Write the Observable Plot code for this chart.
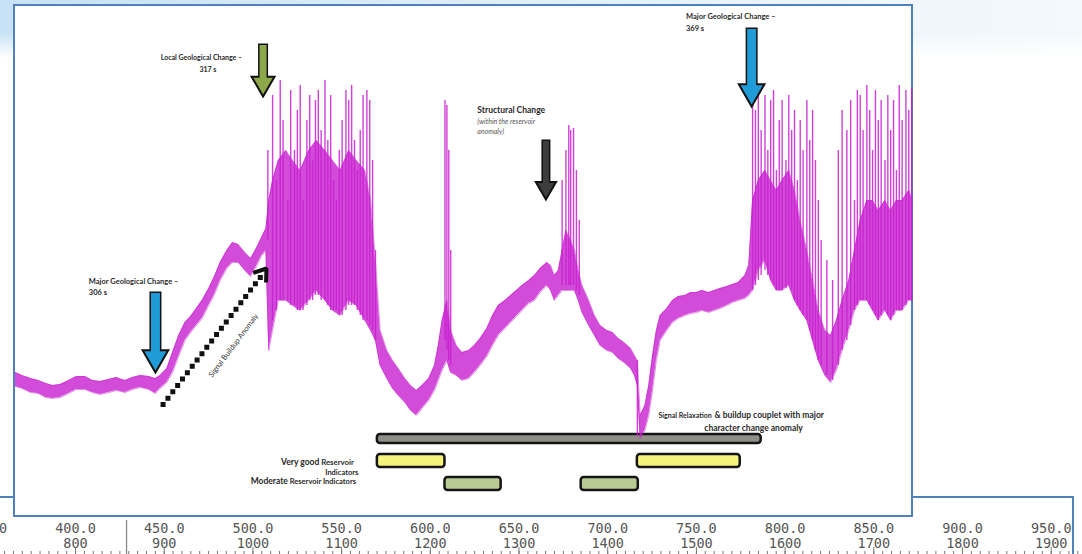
<!DOCTYPE html>
<html><head><meta charset="utf-8">
<script src="https://cdn.jsdelivr.net/npm/d3@7"></script>
<script src="https://cdn.jsdelivr.net/npm/@observablehq/plot@0.6"></script>
<style>
body{margin:0;width:1082px;height:554px;overflow:hidden;background:#fff;position:relative;font-family:Lato,"Open Sans",sans-serif}
#bg{position:absolute;left:0;top:0;width:1082px;height:58px;background:linear-gradient(to bottom,rgba(255,255,255,0) 55%,#fff),linear-gradient(to right,#c7e1f5,#dcedf9 40%,#eef6fc 80%,#f3f9fd)}
#panel{position:absolute;left:12.75px;top:3.75px;width:896.5px;height:509.5px;border:2.5px solid #4f81bd;background:#fff}
.bl{position:absolute;background:#4f81bd}
#chart{position:absolute;left:14px;top:5px}
#axis{position:absolute;left:0;top:517px}
</style></head>
<body>
<div id="bg"></div>
<div class="bl" style="left:0;top:495.75px;width:14px;height:2.5px"></div>
<div class="bl" style="left:913px;top:495.75px;width:161px;height:2.5px"></div>
<div class="bl" style="left:1071.5px;top:495.75px;width:2.5px;height:60px"></div>
<div id="panel"></div>
<div id="chart"></div>
<div id="axis"></div>
<script>
// ---- signal envelope (time in s, amplitude in arbitrary units) ----
const bandTime = [291.1,291.8,292.7,293.5,294.3,295.0,295.8,296.7,297.5,298.4,299.2,300.0,300.9,301.7,302.6,303.4,304.2,305.1,305.8,306.3,307.0,307.6,308.2,308.9,309.5,310.1,310.7,311.4,312.0,312.6,313.3,313.9,314.5,315.2,315.8,316.4,316.9,317.4,
317.7,318.1,318.7,319.5,320.2,321.0,321.9,322.7,323.6,324.4,325.2,326.1,326.9,327.8,328.4,328.9,
329.4,330.1,330.7,331.3,332.0,332.6,333.2,333.8,334.5,335.1,335.5,335.9,336.4,336.8,337.4,338.0,338.7,339.3,339.9,340.6,341.2,341.8,342.5,343.1,343.7,344.3,345.0,345.6,346.2,346.9,347.3,347.7,348.1,348.5,348.9,349.4,349.8,350.2,350.6,351.3,351.9,352.5,353.2,353.8,354.4,355.0,355.7,356.1,356.4,356.7,357.2,357.6,358.0,358.4,358.8,359.5,360.1,360.7,361.4,362.0,362.6,363.2,363.9,364.5,365.1,365.8,366.4,367.0,367.7,368.1,
368.5,369.1,369.8,370.4,371.0,371.6,372.3,372.9,373.5,374.2,374.8,375.4,376.1,376.7,377.3,377.9,378.6,379.2,379.8,380.5,381.1,381.7,382.4,383.0,383.6,384.2,384.9,385.3];
const bandTop = [88,85,82,80,77,75,76,80,84,84,80,79,81,83,80,83,85,84,82,85,92,108,124,138,144,152,160,172,184,198,210,218,216,208,202,212,222,232,
260,280,300,310,300,290,310,320,310,300,290,310,300,290,260,200,
130,110,100,92,82,75,70,75,82,95,115,140,160,130,115,108,110,115,122,132,145,155,160,165,170,175,180,185,192,198,195,185,190,210,230,220,210,190,175,160,145,135,130,128,122,118,112,105,100,45,55,75,105,130,145,152,160,164,165,168,168,170,168,170,172,174,176,178,185,195,
260,280,290,280,270,280,290,270,240,210,180,150,130,125,140,160,180,210,240,260,260,250,260,250,260,260,270,260];
const bandBottom = [74,72,68,67,63,62,63,67,71,71,68,66,68,70,68,71,73,71,67,72,78,88,103,120,128,135,142,155,166,180,192,198,198,190,184,194,204,210,
110,130,160,160,155,150,160,170,160,150,145,160,155,140,130,120,
95,82,72,65,58,50,45,52,60,70,80,90,100,88,85,80,82,88,95,104,115,125,132,138,144,150,157,160,168,175,170,160,165,170,170,170,170,160,148,135,125,115,110,108,102,98,92,85,75,22,30,45,70,100,120,130,138,142,145,147,148,150,148,150,152,155,158,160,162,165,
170,190,200,180,170,170,175,160,150,140,120,100,85,78,90,110,130,150,160,160,150,140,150,140,150,150,160,160];

// ---- spikes ----
const spikeTime = [317.6,318.1,318.5,318.9,319.2,319.7,320.0,320.4,320.7,321.0,321.3,321.7,322.0,322.3,322.6,322.9,323.2,323.6,323.9,324.2,324.5,324.8,325.1,325.4,325.8,326.1,326.4,326.7,327.0,327.3,327.6,328.0,328.3,328.6,328.9,
336.2,336.4,336.6,336.8,348.5,348.9,349.2,349.4,349.7,350.0,350.3,356.4,
368.5,368.8,369.1,369.4,369.8,370.1,370.4,370.7,371.0,371.3,371.6,372.0,372.3,372.6,372.9,373.2,373.5,373.8,374.2,374.5,374.8,375.1,375.4,375.7,376.3,376.9,377.5,377.9,378.4,378.8,379.2,379.5,379.8,380.1,380.5,380.8,381.1,381.4,381.7,382.0,382.4,382.7,383.0,383.3,383.6,383.9,384.2,384.6,384.9,385.2];
const spikeTop = [310,365,280,380,340,260,370,310,350,375,260,340,365,300,360,370,330,380,320,365,280,260,310,340,370,360,375,320,290,330,365,370,360,300,210,
360,355,310,210,280,310,335,330,332,290,240,100,
375,350,370,330,365,310,360,370,290,340,360,300,365,330,350,280,340,310,360,320,350,300,260,220,200,180,310,350,330,360,260,370,365,330,375,350,310,370,340,360,300,365,330,360,290,375,340,370,350,372];
const spikeBase = [220,140,150,160,160,160,155,155,150,150,150,155,160,160,165,165,160,160,155,150,150,150,145,145,150,155,155,155,150,145,140,140,135,130,120,
120,110,100,95,175,175,175,175,175,170,165,24,
170,175,180,185,190,185,180,175,170,170,170,172,175,170,160,155,150,145,140,130,120,110,100,95,85,80,95,110,120,135,150,155,160,160,160,155,150,145,140,145,150,145,140,145,150,150,150,155,160,160];

// ---- annotation arrows ----
const arrowTime = [305.8, 317.1, 346.8, 368.4];
const arrowTop = [167, 415, 319, 431];
const arrowTip = [88, 364, 261, 354];
const arrowFill = ["#1f9bd7", "#8da84b", "#3d3d3d", "#1f9bd7"];
const arrowShaft = [9, 7, 6, 9];
const arrowHead = [9.5, 8.5, 7.5, 9.5];

// ---- reservoir indicator bars ----
const barKind = ["couplet","very good","very good","moderate","moderate"];
const barStart = [329.1, 329.1, 356.4, 336.2, 350.5];
const barEnd = [369.4, 336.2, 367.2, 342.1, 356.5];
const barLow = [17, -7, -7, -30, -30];
const barHigh = [26, 6, 6, -17, -17];
const barColor = {"couplet":"#8f8f87","very good":"#f6f27c","moderate":"#b8cb92"};

// ---- labels ----
const labelText = ["Local Geological Change –","317 s","Major Geological Change –","306 s","Structural Change","(within the reservoir","anomaly)","Major Geological Change –","369 s","Signal Relaxation","& buildup couplet with major","character change anomaly","Very good","Reservoir","Indicators","Moderate","Reservoir Indicators"];
const labelTime = [314.9,312.2,298.8,298.8,339.6,339.6,339.6,361.5,361.5,364.2,364.5,368.6,323.0,323.2,327.1,319.7,319.9];
const labelAmp = [403,391,179,168,350,339,329,444,432,45,45,32,-2,-2,-12,-21,-21];
const labelAnchor = ["end","end","start","start","start","start","start","start","start","end","start","middle","end","start","end","end","start"];
const labelSize = [7,7,7.5,7.5,8.5,7,7,7.5,7.5,7,8.5,8.5,8.5,7.8,7.5,8.5,7.5];
const labelWeight = ["bold","bold","bold","bold","bold","normal","normal","bold","bold","bold","bold","bold","bold","bold","bold","bold","bold"];
const labelStyle = ["normal","normal","normal","normal","normal","italic","italic","normal","normal","normal","normal","normal","normal","normal","normal","normal","normal"];

// ---- bottom ruler ----
const rulerTopLabels = [350,400,450,500,550,600,650,700,750,800,850,900,950];
const rulerBottomLabels = [700,800,900,1000,1100,1200,1300,1400,1500,1600,1700,1800,1900];
const rulerCursor = [857.5];

const magenta = "#c81fd0";
const band = bandTime.map((t,i)=>({t, hi: bandTop[i], lo: bandBottom[i]}));
const spikes = spikeTime.map((t,i)=>({t, top: spikeTop[i], base: spikeBase[i]}));
const bars = barKind.map((k,i)=>({k, x1: barStart[i], x2: barEnd[i], y1: barLow[i], y2: barHigh[i]}));
const arrows = arrowTime.map((t,i)=>({t, top: arrowTop[i], tip: arrowTip[i], fill: arrowFill[i], w: arrowShaft[i], r: arrowHead[i], c: arrowTip[i] + 1.555*arrowHead[i]}));
const labels = labelText.map((text,i)=>({text, t: labelTime[i], a: labelAmp[i], anchor: labelAnchor[i], size: labelSize[i], weight: labelWeight[i], style: labelStyle[i]}));

const marks = [
  Plot.rect(bars, {x1:"x1", x2:"x2", y1:"y1", y2:"y2", fill: d=>barColor[d.k], stroke:"#151515", strokeWidth:2.5, rx:3}),
  Plot.areaY(band, {x:"t", y1:"lo", y2:"hi", fill: magenta, fillOpacity:0.8}),
  Plot.lineY(band, {x:"t", y:"hi", stroke: magenta, strokeWidth:1, strokeOpacity:0.5}),
  Plot.lineY(band, {x:"t", y:"lo", stroke: magenta, strokeWidth:1, strokeOpacity:0.5}),
  Plot.ruleX(spikes, {x:"t", y1:"base", y2:"top", stroke: magenta, strokeWidth:1.4, strokeOpacity:0.85}),
];
for (const a of arrows) {
  marks.push(Plot.ruleX([a], {x:"t", y1: a.top+1.5, y2: a.c, stroke:"#111", strokeWidth: a.w+3}));
  marks.push(Plot.dot([a], {x:"t", y:"c", symbol:"triangle", rotate:180, r: a.r, fill: a.fill, stroke:"#111", strokeWidth:2}));
  marks.push(Plot.ruleX([a], {x:"t", y1: a.top, y2: a.c, stroke: a.fill, strokeWidth: a.w}));
}
// dotted build-up arrow with chevron head
const buildup = [{t1:306.6, a1:56, t2:317.2, a2:188}];
marks.push(Plot.link(buildup, {x1:"t1", y1:"a1", x2:"t2", y2:"a2", stroke:"#111", strokeWidth:5, strokeDasharray:"0 8", strokeLinecap:"square"}));
const chevron = [{t:316.06, a:187.7},{t:317.46, a:192},{t:317.41, a:178}];
marks.push(Plot.line(chevron, {x:"t", y:"a", stroke:"#111", strokeWidth:4, strokeLinejoin:"miter", strokeLinecap:"butt"}));
marks.push(Plot.text([{t:314.0, a:115, text:"Signal Buildup Anomaly"}], {x:"t", y:"a", text:"text", rotate:-53, fontSize:7.5, fill:"#333", fontFamily:"Lato"}));
for (const l of labels) {
  marks.push(Plot.text([l], {x:"t", y:"a", text:"text", textAnchor:l.anchor, fontSize:l.size, fontWeight:l.weight, fontStyle:l.style, fill: l.style==="italic" ? "#555" : "#2a2a2a", fontFamily:"Lato"}));
}

const chart = Plot.plot({
  width: 899, height: 512, margin: 0,
  x: {domain: [291, 385.395], axis: null},
  y: {domain: [-57, 455], axis: null},
  style: {background: "transparent", overflow: "visible"},
  marks
});
document.getElementById("chart").append(chart);

const minorTicks = d3.range(720, 1940, 10);
const ruler = Plot.plot({
  width: 1082, height: 37, margin: 0,
  x: {domain: [715.4, 1935.3], axis: null},
  y: {domain: [0, 37], range: [0, 37], axis: null},
  style: {background: "transparent"},
  marks: [
    Plot.ruleX(minorTicks, {x: d=>d, y1: 34, y2: 37, stroke:"#777", strokeWidth:1}),
    Plot.ruleX(rulerBottomLabels, {x: d=>d, y1: 30, y2: 37, stroke:"#777", strokeWidth:1}),
    Plot.ruleX(rulerCursor, {x: d=>d, y1: 3, y2: 37, stroke:"#888", strokeWidth:1.3}),
    Plot.text(rulerTopLabels, {x: d=>2*d, y: 11, text: d=>d.toFixed(1), fontFamily:"DejaVu Sans Mono", fontSize:13.5, fill:"#555"}),
    Plot.text(rulerBottomLabels, {x: d=>d, y: 26, text: d=>String(d), fontFamily:"DejaVu Sans Mono", fontSize:13.5, fill:"#555"})
  ]
});
document.getElementById("axis").append(ruler);
</script>
</body></html>
